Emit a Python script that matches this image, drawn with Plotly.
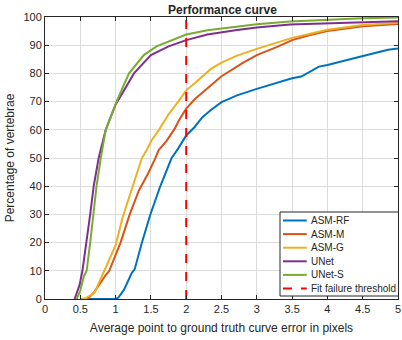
import plotly.graph_objects as go

# ---- data ----
rf_x = [0.6, 1.0, 1.04, 1.09, 1.12, 1.23, 1.27, 1.37, 1.49, 1.63, 1.79, 1.89, 2.0, 2.12, 2.23, 2.35, 2.5, 2.72, 3.0, 3.5, 3.63, 3.88, 4.0, 4.49, 4.86, 5.0]
rf_y = [0, 0, 0.5, 2.2, 3.3, 9.3, 10.5, 19.8, 29.8, 39.8, 49.8, 53.5, 58, 61, 64.5, 67, 69.8, 72.2, 74.5, 78.3, 78.9, 82.4, 83, 86.1, 88.4, 88.8]

m_x = [0.6, 0.69, 0.86, 0.91, 1.07, 1.2, 1.33, 1.46, 1.56, 1.61, 1.72, 1.84, 1.9, 2.0, 2.12, 2.35, 2.5, 2.82, 3.0, 3.28, 3.5, 3.74, 4.0, 4.5, 5.0]
m_y = [0, 2.2, 8.5, 10, 20, 30, 38.5, 44.5, 49.8, 52.8, 56, 60.5, 63.5, 67.5, 70.8, 75.7, 79, 84, 86.5, 89.3, 91.8, 93.5, 95, 96.7, 97.5]

g_x = [0.5, 0.58, 0.7, 0.84, 0.9, 1.0, 1.1, 1.2, 1.37, 1.44, 1.51, 1.61, 1.75, 1.91, 2.0, 2.12, 2.35, 2.5, 2.72, 3.0, 3.28, 3.5, 3.74, 4.0, 4.5, 5.0]
g_y = [0, 0.3, 2.2, 9.8, 13, 19, 29, 37, 49.8, 52.8, 56.3, 59.8, 65.5, 70.8, 74, 76.5, 81.6, 83.8, 86.3, 88.7, 90.8, 92.6, 94, 95.5, 97.2, 98]

u_x = [0.42, 0.45, 0.49, 0.53, 0.59, 0.64, 0.69, 0.76, 0.86, 1.0, 1.05, 1.26, 1.5, 1.75, 2.0, 2.3, 2.72, 3.0, 3.47, 4.0, 4.5, 5.0]
u_y = [0, 2, 5, 10, 20, 30, 40, 50, 60, 69, 71, 80, 86.5, 89.6, 91.8, 93.8, 95.4, 96.3, 97.3, 97.8, 98.2, 98.5]

s_x = [0.45, 0.5, 0.55, 0.59, 0.64, 0.68, 0.73, 0.79, 0.86, 1.0, 1.03, 1.19, 1.4, 1.58, 2.0, 2.3, 2.72, 3.0, 3.47, 4.0, 4.5, 5.0]
s_y = [0, 3, 8, 10, 20, 30, 40, 50, 60, 69, 71, 80, 86.5, 89.6, 93.8, 95.3, 96.6, 97.4, 98.4, 99.0, 99.6, 99.8]

thr_x = [2, 2]
thr_y = [0, 100]

x_ticks = [0, 0.5, 1, 1.5, 2, 2.5, 3, 3.5, 4, 4.5, 5]
x_tick_labels = ["0", "0.5", "1", "1.5", "2", "2.5", "3", "3.5", "4", "4.5", "5"]
y_ticks = [0, 10, 20, 30, 40, 50, 60, 70, 80, 90, 100]

series_names = ["ASM-RF", "ASM-M", "ASM-G", "UNet", "UNet-S"]
series_x = [rf_x, m_x, g_x, u_x, s_x]
series_y = [rf_y, m_y, g_y, u_y, s_y]
series_colors = ["#0072BD", "#D95319", "#EDB120", "#7E2F8E", "#77AC30"]
thr_name = "Fit failure threshold"
thr_color = "#FF0000"

FONT = "Liberation Sans, Arial, sans-serif"
TXT = "#262626"

fig = go.Figure()
for name, xs, ys, col in zip(series_names, series_x, series_y, series_colors):
    fig.add_trace(go.Scatter(x=xs, y=ys, mode="lines", name=name,
                             line=dict(color=col, width=2), showlegend=False))
fig.add_trace(go.Scatter(x=thr_x, y=thr_y, mode="lines", name=thr_name,
                         line=dict(color=thr_color, width=2, dash="dash"), showlegend=False))

axis_common = dict(showline=True, linecolor=TXT, linewidth=1, mirror="ticks",
                   ticks="inside", ticklen=4, tickcolor=TXT,
                   showgrid=True, gridcolor="#DCDCDC", gridwidth=1, zeroline=False,
                   tickfont=dict(family=FONT, size=11, color=TXT))

fig.update_xaxes(range=[0, 5], tickvals=x_ticks, ticktext=x_tick_labels,
                 ticklabeloverflow="allow",
                 title=dict(text="Average point to ground truth curve error in pixels",
                            font=dict(family=FONT, size=12, color=TXT), standoff=9),
                 **axis_common)
fig.update_yaxes(range=[0, 100], tickvals=y_ticks,
                 title=dict(text="Percentage of vertebrae",
                            font=dict(family=FONT, size=12, color=TXT), standoff=6),
                 **axis_common)

# ---- manual legend box (matching the compact MATLAB legend) ----
W, H, L, R, T, B = 402, 340, 45, 1, 17, 41
pw, ph = W - L - R, H - T - B

def px2paper_x(px):
    return (px - L) / pw

def px2paper_y(py):
    return (H - B - py) / ph

shapes = [dict(type="rect", xref="paper", yref="paper",
               x0=px2paper_x(282), x1=px2paper_x(401.5),
               y0=px2paper_y(296), y1=px2paper_y(212),
               line=dict(color=TXT, width=1), fillcolor="white", layer="above")]
annotations = []
leg_names = series_names + [thr_name]
leg_colors = series_colors + [thr_color]
leg_dash = ["solid"] * len(series_names) + ["dash"]
row0, step = 220.5, 13.6
for i, (nm, col, ds) in enumerate(zip(leg_names, leg_colors, leg_dash)):
    yc = px2paper_y(row0 + i * step)
    shapes.append(dict(type="line", xref="paper", yref="paper",
                       x0=px2paper_x(285), x1=px2paper_x(309), y0=yc, y1=yc,
                       line=dict(color=col, width=2, dash=ds), layer="above"))
    annotations.append(dict(xref="paper", yref="paper", x=px2paper_x(311), y=yc,
                            xanchor="left", yanchor="middle", showarrow=False,
                            text=nm, font=dict(family=FONT, size=10, color=TXT)))

fig.update_layout(
    width=W, height=H,
    margin=dict(l=L, r=R, t=T, b=B),
    paper_bgcolor="white", plot_bgcolor="white",
    title=dict(text="<b>Performance curve</b>", x=px2paper_x(224), xanchor="center",
               xref="paper", y=0.985, yanchor="top",
               font=dict(family=FONT, size=12, color=TXT)),
    shapes=shapes, annotations=annotations,
    showlegend=False,
)

fig.write_html("out.html")
